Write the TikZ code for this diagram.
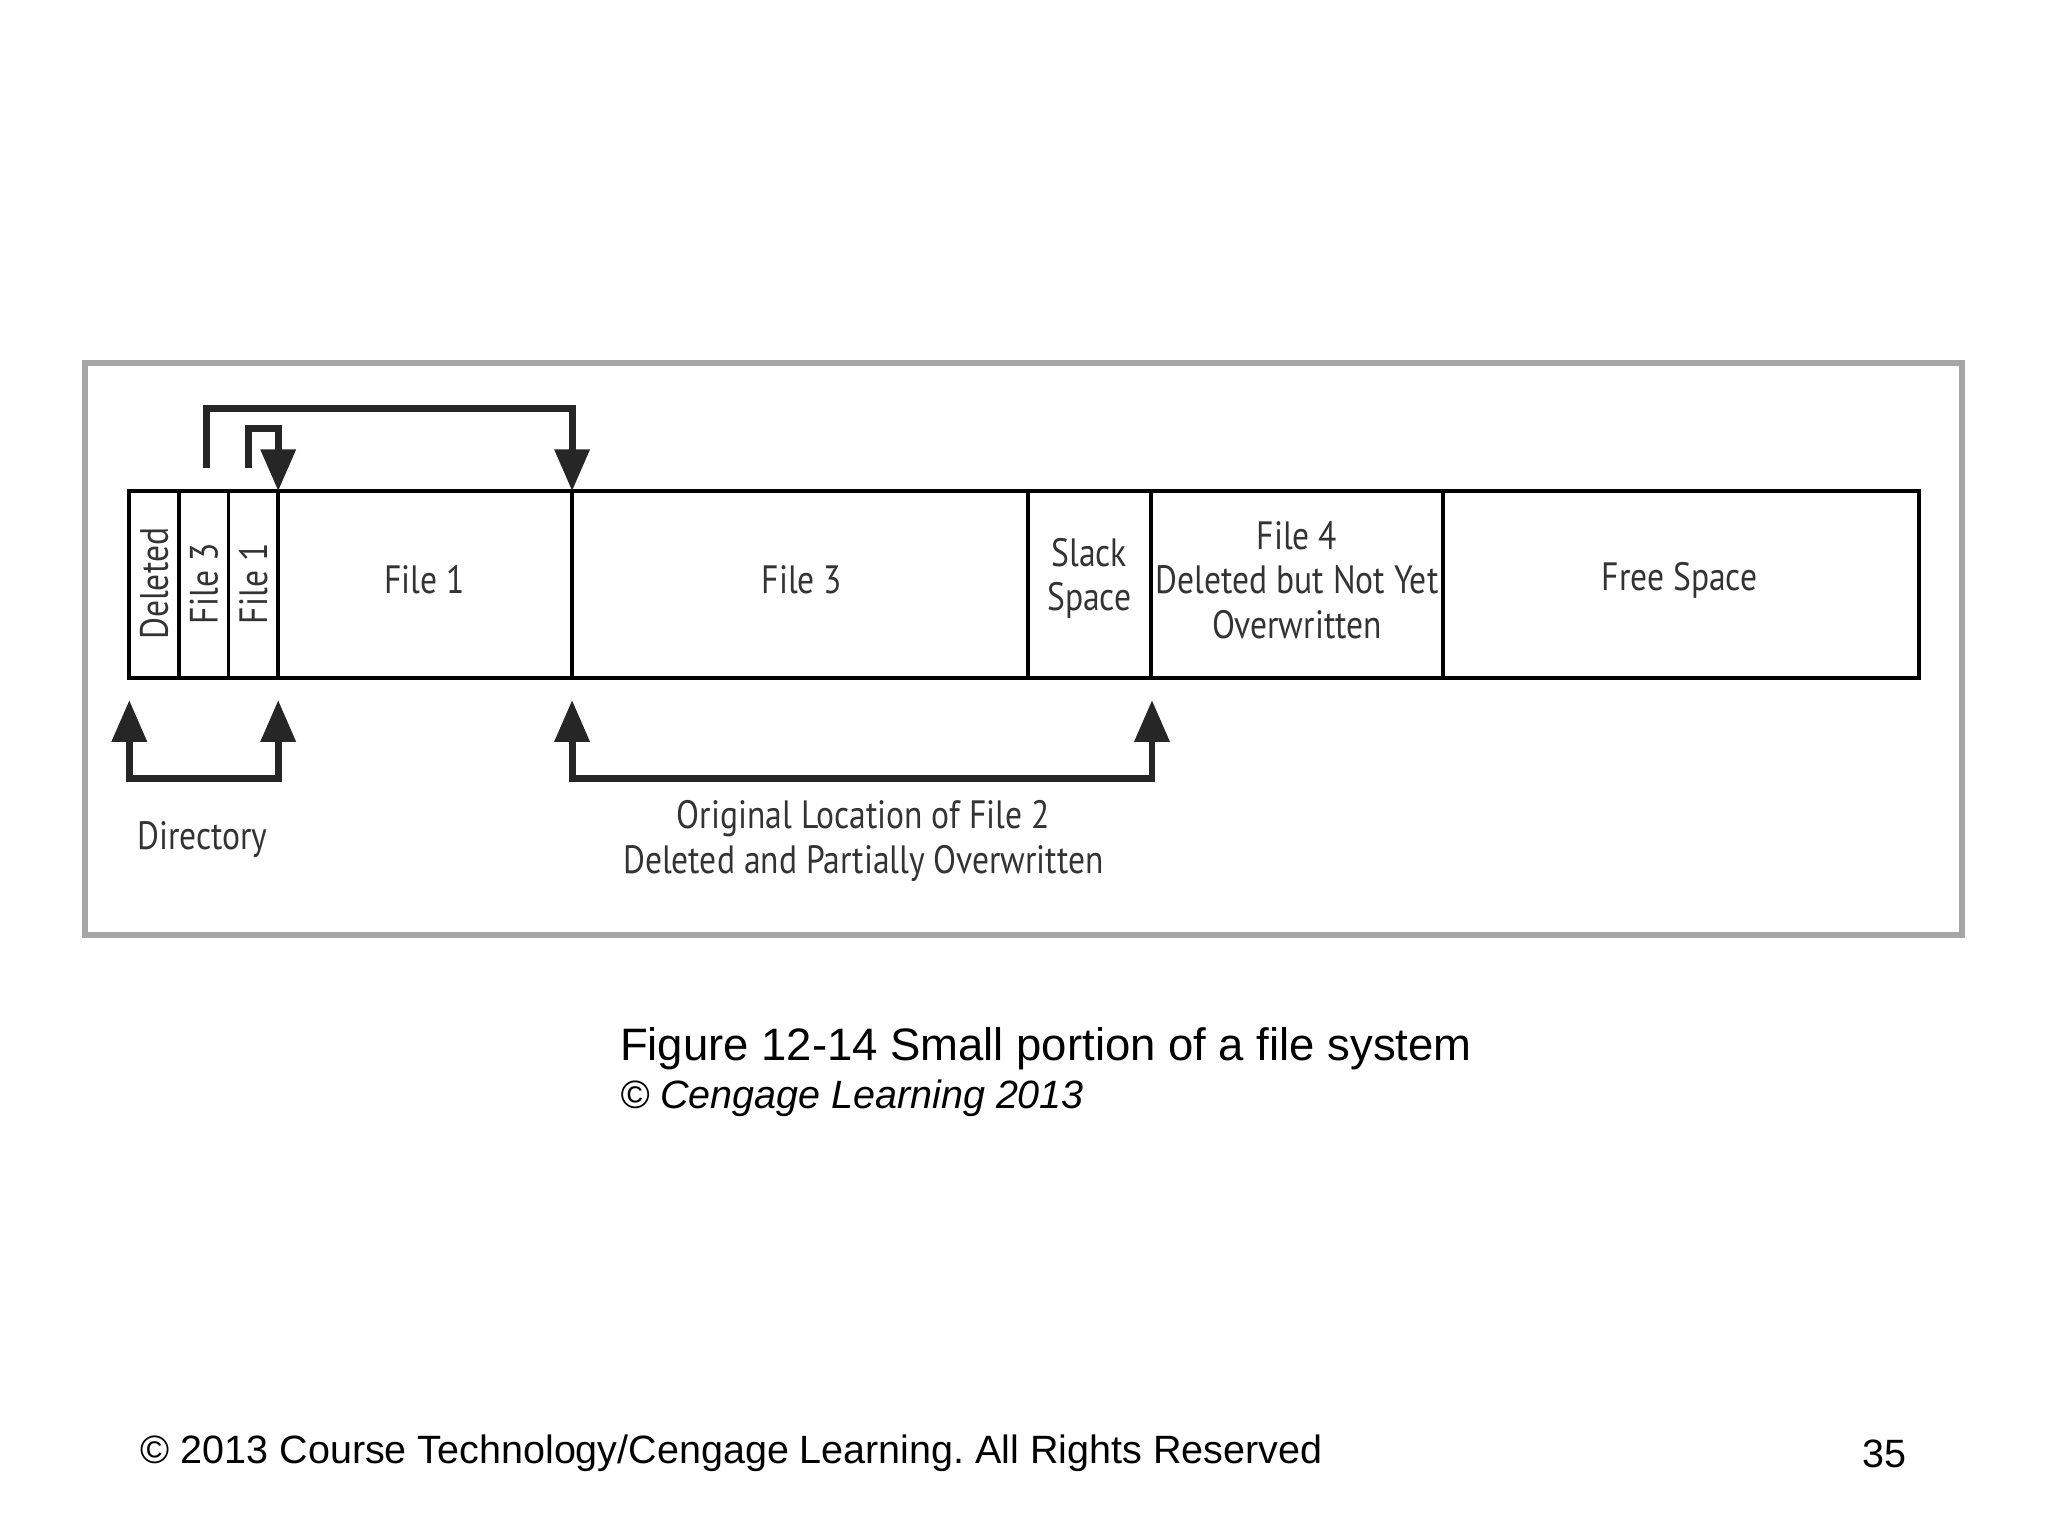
\documentclass[tikz,border=0pt]{standalone}
\usepackage{fontspec}
\setmainfont{Liberation Sans}
\newfontfamily\diag{PT Sans}[FakeStretch=0.85]
\usetikzlibrary{arrows.meta}
\frenchspacing
\begin{document}
\frenchspacing
\begin{tikzpicture}[x=0.01cm,y=-0.01cm,
  box/.style={draw=black,line width=0.8pt},
  conn/.style={line width=1.5pt,draw=black!85,-{Triangle[width=0.26cm,length=0.32cm]}},
  lab/.style={font=\diag\fontsize{8.6}{9.7}\selectfont,align=center,text=black!80},
  captxt/.style={font=\fontsize{9.9}{11}\selectfont,anchor=west,inner sep=0pt}]
\useasboundingbox (0,0) rectangle (1568,1176);
\draw[black!35,line width=1.2pt] (65,278) rectangle (1502,716);
\draw[box] (99,376) rectangle (1469,519);
\foreach \x in {137,175,213,438,787,881,1105} \draw[box] (\x,376) -- (\x,519);
\node[lab,rotate=90] (dl) at (118,447) {Deleted};
\node[lab,rotate=90] (f3s) at (156,447) {File 3};
\node[lab,rotate=90] (f1s) at (194,447) {File 1};
\node[lab] (f1) at (325,444) {File 1};
\node[lab] (f3) at (614,444) {File 3};
\node[lab] (sl) at (834,443) {Slack\\Space};
\node[lab] (f4) at (993,444) {File 4\\Deleted but Not Yet\\Overwritten};
\node[lab] (fs) at (1286,444) {Free Space};
\coordinate (a1) at (158,358); \coordinate (a1e) at (438,376);
\coordinate (a2) at (190,358); \coordinate (a2e) at (213,376);
\draw[conn] (a1) |- (438,313) -- (a1e);
\draw[conn] (a2) |- (213,328) -- (a2e);
\coordinate (b1) at (99,536); \coordinate (b2) at (213,536);
\coordinate (c1) at (438,536); \coordinate (c2) at (882,536);
\draw[conn,{Triangle[width=0.26cm,length=0.32cm]}-{Triangle[width=0.26cm,length=0.32cm]}] (b1) |- (213,596) -- (b2);
\draw[conn,{Triangle[width=0.26cm,length=0.32cm]}-{Triangle[width=0.26cm,length=0.32cm]}] (c1) |- (882,596) -- (c2);
\node[lab] (dir) at (155,643) {Directory};
\node[lab] (orig) at (661,644) {Original Location of File 2\\Deleted and Partially Overwritten};
\node[captxt] (c) at (474,803) {Figure 12-14 Small portion of a file system};
\node[captxt,font=\itshape\fontsize{8.6}{10}\selectfont] (cc) at (474,841) {© Cengage Learning 2013};
\node[captxt,font=\fontsize{8.6}{10}\selectfont] (ft) at (107,1113) {© 2013 Course Technology/Cengage Learning. All Rights Reserved};
\node[captxt,font=\fontsize{8.6}{10}\selectfont,anchor=east] (pg) at (1460,1113) {35};
\end{tikzpicture}
\end{document}
